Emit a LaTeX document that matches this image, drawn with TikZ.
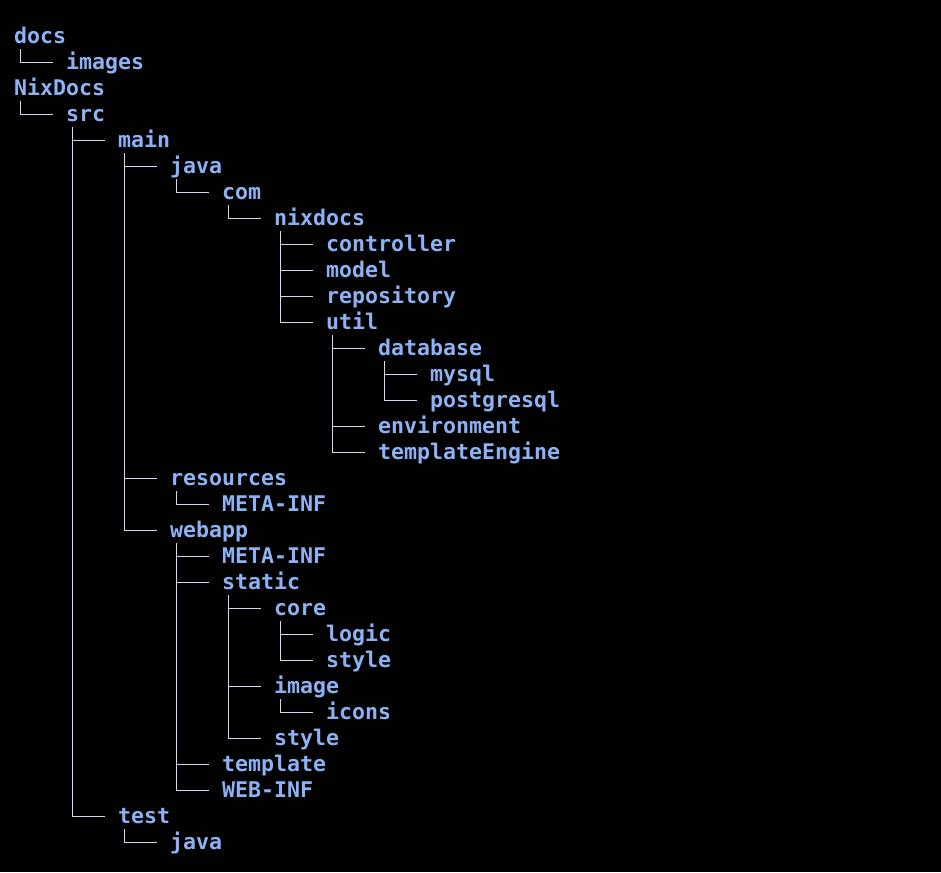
\documentclass[tikz,border=0pt]{standalone}
\usepackage{fontspec}
\setmonofont{DejaVu Sans Mono}
\definecolor{termbg}{HTML}{010101}
\definecolor{dirname}{HTML}{8CB2F4}
\definecolor{branch}{HTML}{D5D8EE}
\tikzset{
  dir/.style={anchor=west, inner sep=0pt, text=dirname,
    font=\ttfamily\bfseries\fontsize{21.6}{26}\selectfont,
    text height=17.8pt, text depth=2pt},
  tree/.style={draw=branch, line width=0.95pt},
}
% one tree row per 26pt, one indent level per 52pt
\newcommand{\entry}[4]{\node[dir] (#1) at ({14+52*#2},{-(36+26*#3)}) {#4};}
\newcommand{\branchto}[2]{\draw[tree] ([xshift=6.5pt,yshift=-13pt]#1.west) |- ([xshift=-13pt]#2.west);}
\begin{document}
\begin{tikzpicture}[x=1pt,y=1pt]
\fill[termbg] (0,0) rectangle (941,-872);
\useasboundingbox (0,0) rectangle (941,-872);

\entry{docs}{0}{0}{docs}
\entry{images}{1}{1}{images}
\entry{nix}{0}{2}{NixDocs}
\entry{src}{1}{3}{src}
\entry{main}{2}{4}{main}
\entry{java}{3}{5}{java}
\entry{com}{4}{6}{com}
\entry{nixdocs}{5}{7}{nixdocs}
\entry{controller}{6}{8}{controller}
\entry{model}{6}{9}{model}
\entry{repository}{6}{10}{repository}
\entry{util}{6}{11}{util}
\entry{database}{7}{12}{database}
\entry{mysql}{8}{13}{mysql}
\entry{postgresql}{8}{14}{postgresql}
\entry{environment}{7}{15}{environment}
\entry{tplengine}{7}{16}{templateEngine}
\entry{resources}{3}{17}{resources}
\entry{resmeta}{4}{18}{META-INF}
\entry{webapp}{3}{19}{webapp}
\entry{webmeta}{4}{20}{META-INF}
\entry{static}{4}{21}{static}
\entry{core}{5}{22}{core}
\entry{logic}{6}{23}{logic}
\entry{corestyle}{6}{24}{style}
\entry{image}{5}{25}{image}
\entry{icons}{6}{26}{icons}
\entry{style}{5}{27}{style}
\entry{template}{4}{28}{template}
\entry{webinf}{4}{29}{WEB-INF}
\entry{test}{2}{30}{test}
\entry{testjava}{3}{31}{java}

\branchto{docs}{images}
\branchto{nix}{src}
\branchto{src}{main}
\branchto{src}{test}
\branchto{main}{java}
\branchto{main}{resources}
\branchto{main}{webapp}
\branchto{java}{com}
\branchto{com}{nixdocs}
\branchto{nixdocs}{controller}
\branchto{nixdocs}{model}
\branchto{nixdocs}{repository}
\branchto{nixdocs}{util}
\branchto{util}{database}
\branchto{util}{environment}
\branchto{util}{tplengine}
\branchto{database}{mysql}
\branchto{database}{postgresql}
\branchto{resources}{resmeta}
\branchto{webapp}{webmeta}
\branchto{webapp}{static}
\branchto{webapp}{template}
\branchto{webapp}{webinf}
\branchto{static}{core}
\branchto{static}{image}
\branchto{static}{style}
\branchto{core}{logic}
\branchto{core}{corestyle}
\branchto{image}{icons}
\branchto{test}{testjava}
\end{tikzpicture}
\end{document}
